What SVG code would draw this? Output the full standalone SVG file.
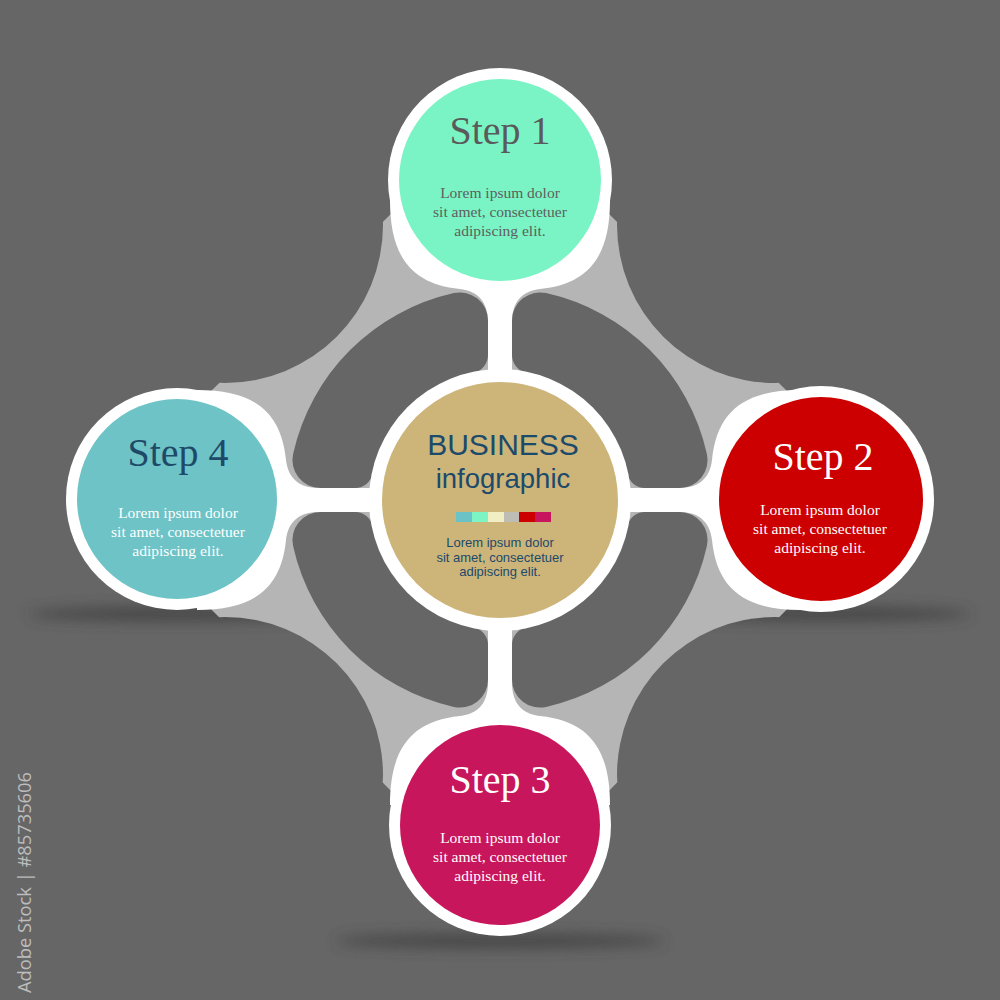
<svg xmlns="http://www.w3.org/2000/svg" width="1000" height="1000" viewBox="0 0 1000 1000">
  <defs>
    <style>
      .title{font-family:"Liberation Serif","Times New Roman",serif;font-size:40px;text-anchor:middle}
      .lorem{font-family:"Liberation Serif","Times New Roman",serif;font-size:15.5px;text-anchor:middle}
      .sans{font-family:"Liberation Sans",Arial,sans-serif;text-anchor:middle;fill:#1b4a6b}
      .ring{fill:#ffffff}
      .bg{fill:#666666}
      .neck{fill:#ffffff}
    </style>
    <filter id="blur" x="-50%" y="-300%" width="200%" height="700%">
      <feGaussianBlur stdDeviation="7"/>
    </filter>
    <mask id="wingMask" maskUnits="userSpaceOnUse" x="0" y="0" width="1000" height="1000">
      <rect x="0" y="0" width="1000" height="1000" fill="#fff"/>
      <circle cx="225" cy="225" r="158" fill="#000"/>
      <circle cx="775" cy="225" r="158" fill="#000"/>
      <circle cx="225" cy="775" r="158" fill="#000"/>
      <circle cx="775" cy="775" r="158" fill="#000"/>
    </mask>
    <path id="quad" d="M -46.1,-206.9 A 212 212 0 0 0 -206.9,-46.1 A 28 28 0 0 0 -179.6,-12 L -144.9,-12 A 18 18 0 0 0 -127.3,-26.4 A 130 130 0 0 1 -26.4,-127.3 A 18 18 0 0 0 -12,-144.9 L -12,-179.6 A 28 28 0 0 0 -46.1,-206.9 Z"/>
    <path id="skirt" d="M -110,20 C -110,75 -90,104 -40,109 C -22,111 -12,122 -12,142 L 12,142 C 12,122 22,111 40,109 C 90,104 110,75 110,20 Z"/>
  </defs>

  <rect x="0" y="0" width="1000" height="1000" fill="#666666"/>

  <g id="shadows" filter="url(#blur)" fill="#3a3a3a" opacity="0.75">
    <ellipse cx="178" cy="614" rx="150" ry="7"/>
    <ellipse cx="821" cy="614" rx="150" ry="7"/>
    <ellipse cx="500" cy="941" rx="165" ry="7"/>
  </g>

  <g id="connectors">
    <polygon id="wings" points="400,205 600,205 796,400 796,600 600,800 400,800 202,600 202,400" fill="#b5b5b5" mask="url(#wingMask)"/>
    <rect class="neck" x="488" y="200" width="24" height="600"/>
    <rect class="neck" x="200" y="488" width="600" height="24"/>
    <g class="neck">
      <use href="#skirt" transform="translate(500 180)"/>
      <use href="#skirt" transform="translate(821 500) rotate(90)"/>
      <use href="#skirt" transform="translate(500 825) rotate(180)"/>
      <use href="#skirt" transform="translate(177 500) rotate(270)"/>
    </g>
    <g class="bg">
      <use href="#quad" transform="translate(500 500)"/>
      <use href="#quad" transform="translate(500 500) rotate(90)"/>
      <use href="#quad" transform="translate(500 500) rotate(180)"/>
      <use href="#quad" transform="translate(500 500) rotate(270)"/>
    </g>
  </g>

  <g id="center">
    <circle class="ring" cx="500" cy="500" r="131"/>
    <circle cx="500" cy="500" r="118" fill="#cdb479"/>
    <text class="sans" x="503" y="455" font-size="30">BUSINESS</text>
    <text class="sans" x="503" y="488" font-size="27.5">infographic</text>
    <rect x="456" y="512" width="16" height="10" fill="#6cc3c7"/>
    <rect x="472" y="512" width="16" height="10" fill="#7cf4c4"/>
    <rect x="488" y="512" width="16" height="10" fill="#f2eec3"/>
    <rect x="504" y="512" width="15" height="10" fill="#bdbdb5"/>
    <rect x="519" y="512" width="16" height="10" fill="#cc0000"/>
    <rect x="535" y="512" width="16" height="10" fill="#c8165e"/>
    <text class="sans" x="500" y="547" font-size="13">Lorem ipsum dolor</text>
    <text class="sans" x="500" y="561.5" font-size="13">sit amet, consectetuer</text>
    <text class="sans" x="500" y="576" font-size="13">adipiscing elit.</text>
  </g>

  <g id="step1">
    <circle class="ring" cx="500" cy="180" r="112"/>
    <circle cx="500" cy="180" r="101" fill="#7af4c4"/>
    <text class="title" x="500" y="144" fill="#5a5a5a">Step 1</text>
    <text class="lorem" x="500" y="197.5" fill="#5e5e5e">Lorem ipsum dolor</text>
    <text class="lorem" x="500" y="216.5" fill="#5e5e5e">sit amet, consectetuer</text>
    <text class="lorem" x="500" y="235.5" fill="#5e5e5e">adipiscing elit.</text>
  </g>

  <g id="step2">
    <circle class="ring" cx="821" cy="499" r="113"/>
    <circle cx="821" cy="499" r="102" fill="#cc0000"/>
    <text class="title" x="823" y="470" fill="#ffffff">Step 2</text>
    <text class="lorem" x="820" y="514.5" fill="#ffffff">Lorem ipsum dolor</text>
    <text class="lorem" x="820" y="533.5" fill="#ffffff">sit amet, consectetuer</text>
    <text class="lorem" x="820" y="552.5" fill="#ffffff">adipiscing elit.</text>
  </g>

  <g id="step3">
    <circle class="ring" cx="500" cy="825" r="111"/>
    <circle cx="500" cy="825" r="100" fill="#c8165c"/>
    <text class="title" x="500" y="793" fill="#ffffff">Step 3</text>
    <text class="lorem" x="500" y="842.5" fill="#ffffff">Lorem ipsum dolor</text>
    <text class="lorem" x="500" y="861.5" fill="#ffffff">sit amet, consectetuer</text>
    <text class="lorem" x="500" y="880.5" fill="#ffffff">adipiscing elit.</text>
  </g>

  <g id="step4">
    <circle class="ring" cx="177" cy="499" r="111"/>
    <circle cx="177" cy="499" r="100" fill="#6dc3c6"/>
    <text class="title" x="178" y="466" fill="#1e4a68">Step 4</text>
    <text class="lorem" x="178" y="517.5" fill="#ffffff">Lorem ipsum dolor</text>
    <text class="lorem" x="178" y="536.5" fill="#ffffff">sit amet, consectetuer</text>
    <text class="lorem" x="178" y="555.5" fill="#ffffff">adipiscing elit.</text>
  </g>

  <text x="31" y="993" transform="rotate(-90 31 993)" font-family="'Open Sans','Liberation Sans',sans-serif" font-size="18" fill="#bdbdbd" textLength="221" lengthAdjust="spacingAndGlyphs">Adobe Stock | #85735606</text>
</svg>
